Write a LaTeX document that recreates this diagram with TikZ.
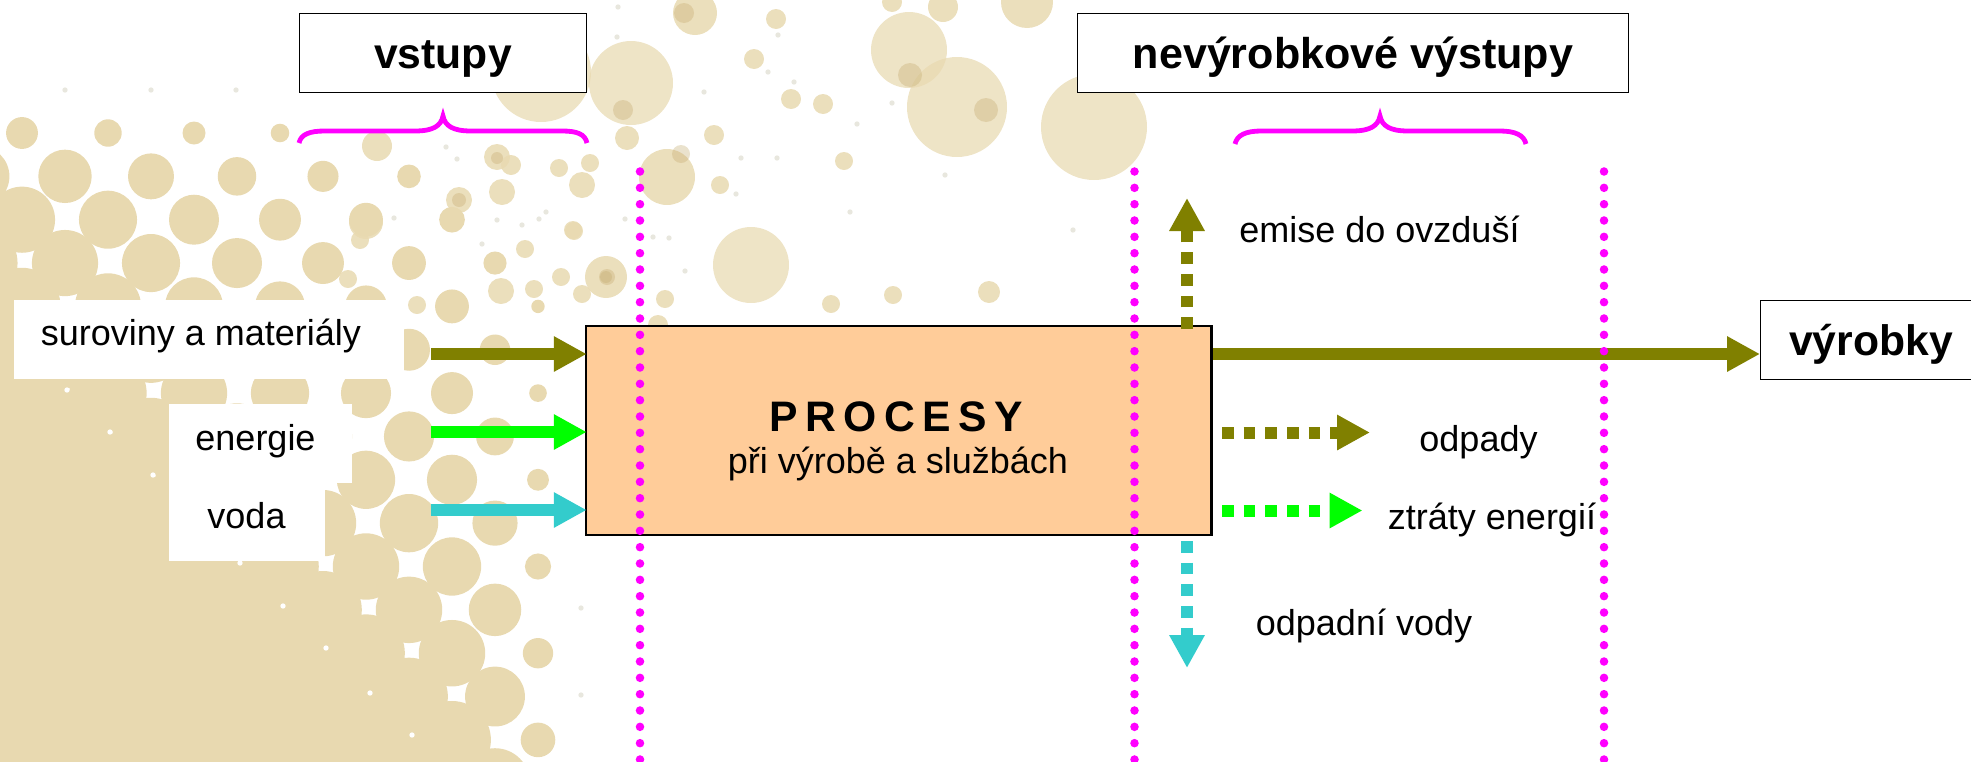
\documentclass[tikz,border=0pt]{standalone}
\usepackage{fontspec}
\setmainfont{Liberation Sans}
\usetikzlibrary{arrows.meta,calc}
\definecolor{sand}{HTML}{E8D9B0}
\definecolor{sanddark}{HTML}{C4AC70}
\definecolor{speck}{HTML}{BDB9A0}
\definecolor{olivearrow}{HTML}{808000}
\definecolor{limearrow}{HTML}{00FF00}
\definecolor{tealarrow}{HTML}{33CCCC}
\definecolor{brace}{HTML}{FF00FF}
\definecolor{procfill}{HTML}{FFCC99}
\tikzset{
  x=0.75pt, y=-0.75pt,
  headbox/.style={draw=black, line width=0.7pt, fill=white, inner sep=0pt, minimum height=59.25pt},
  plainlabel/.style={anchor=base, font=\fontsize{27}{32}\selectfont, inner sep=0pt},
  boldlabel/.style={anchor=base, font=\fontsize{32}{38}\selectfont\bfseries, inner sep=0pt},
  flow/.style={line width=9pt, -{Triangle[length=24.75pt,width=25pt]}},
  dashflow/.style={flow, dash pattern=on 8.75pt off 7.5pt},
  separator/.style={draw=brace, line width=6.4pt, line cap=round, dash pattern=on 0pt off 12.25pt},
  bracket/.style={draw=brace, line width=3.6pt},
  blob/.style={fill=sand, opacity=0.85},
  paleblob/.style={fill=sand, opacity=0.72},
  core/.style={fill=sanddark, opacity=0.35},
}
\begin{document}
\begin{tikzpicture}
\useasboundingbox (0,0) rectangle (1971,761);
\begin{scope}
\clip (0,0) rectangle (1971,761);
% halftone field of dots growing toward the lower left corner
\foreach \row in {0,...,16}{
  \pgfmathsetmacro{\yy}{133+43.35*\row}
  \pgfmathsetmacro{\xstart}{isodd(\row) ? -21 : -64}
  \pgfmathsetmacro{\xlimit}{\row==0 ? 290 : (\row==1 ? 420 : (\row==2 ? 460 : (\row==3 ? 500 : (\row==5 ? 500 : 545))))}
  \foreach \col in {0,...,7}{
    \pgfmathsetmacro{\xx}{\xstart+86*\col}
    \pgfmathparse{\xx<\xlimit ? 1 : 0}
    \ifnum\pgfmathresult=1
      \pgfmathsetmacro{\uu}{\yy-\xx}
      \pgfmathsetmacro{\base}{\uu<250 ? 25+0.047*(\uu-26) : 35.5+0.09*(\uu-250)}
      \pgfmathsetmacro{\rowf}{\row==0 ? 0.55 : (\row==1 ? 0.92 : 1)}
      \pgfmathsetmacro{\colf}{\xx>530 ? 0.52 : (\xx>480 ? 0.9 : 1)}
      \pgfmathsetmacro{\rr}{\base*\rowf*\colf}
      \fill[sand] (\xx,\yy) circle[radius=\rr*0.75pt];
    \fi
  }
}
% scattered dots in the upper middle
\foreach \xx/\yy/\rr in {
  377/146/15, 497/157/13, 511/165/10, 559/168/9, 590/163/9, 582/185/13, 502/192/13,
  459/200/13, 452/221/11, 573/230/9, 525/249/9, 561/277/9, 501/291/13, 534/289/9,
  582/294/9, 417/305/9, 360/240/9, 348/279/9, 366/222/17, 606/277/21, 574/231/9,
  695/13/22, 776/19/10, 754/59/10, 791/99/10, 823/104/10, 714/135/10, 627/138/12,
  667/177/28, 720/185/9, 844/161/9, 665/299/9, 831/304/9, 893/295/9, 989/292/11,
  658/325/10, 943/7/15, 892/2/10, 1027/2/26}
  \fill[blob] (\xx,\yy) circle[radius=\rr*0.75pt];
\foreach \xx/\yy/\rr in {541/72/50, 631/83/42, 751/265/38, 909/50/38, 957/107/50, 1094/127/53}
  \fill[paleblob] (\xx,\yy) circle[radius=\rr*0.75pt];
\foreach \xx/\yy/\rr in {684/13/10, 623/110/10, 681/154/9, 986/110/12, 607/277/8, 497/158/6, 459/200/7, 606/277/6, 910/75/12}
  \fill[core] (\xx,\yy) circle[radius=\rr*0.75pt];
% small specks
\foreach \xx/\yy in {65/90, 151/90, 236/90, 618/7, 617/37, 778/35, 768/72, 794/82, 704/92,
  741/158, 777/158, 857/124, 892/103, 945/175, 736/194, 850/212, 1073/230, 653/237, 669/238,
  625/219, 685/271, 446/147, 457/159, 497/220, 522/225, 539/219, 546/212, 482/244, 394/218, 581/608, 581/695}
  \fill[speck, opacity=0.35] (\xx,\yy) circle[radius=2pt];
% pinholes left in the solid part of the field
\foreach \xx/\yy in {67/390, 110/432, 153/475, 240/563, 283/606, 326/648, 370/693, 412/735}
  \fill[white] (\xx,\yy) circle[radius=2pt];
\end{scope}

% white plates behind the input labels
\fill[white] (14,300) rectangle (404,379);
\fill[white] (169,404) rectangle (351.5,483);
\fill[white] (169,483) rectangle (325,561);

% central process box
\node[draw=black, line width=2pt, fill=procfill, minimum width=469pt, minimum height=156.75pt, inner sep=0pt] (proc) at (898.75,430.5) {};
\node[boldlabel] (proctitle) at (896,431) {\spaceskip=5.6pt P R O C E S Y};
\node[plainlabel] (procsub) at (898,473) {při výrobě a službách};

% heading boxes
\node[headbox, minimum width=215.25pt] (inputs) at (442.5,52.5) {};
\node[boldlabel] (inputstext) at (443,68) {vstupy};
\node[headbox, minimum width=413.25pt] (outputs) at (1352.5,52.5) {};
\node[boldlabel, font=\fontsize{32.3}{38}\selectfont\bfseries] (outputstext) at (1353,68) {nevýrobkové výstupy};
\node[headbox, anchor=west, minimum width=165pt] (products) at (1760,339.5) {};
\node[boldlabel] (productstext) at (1871,355) {výrobky};

% braces under the headings
\draw[bracket] (299,143) .. controls (301,134) and (310,131) .. (325,131) -- (415,131)
  .. controls (433,131) and (441,126) .. (443,116) .. controls (445,126) and (453,131) .. (471,131)
  -- (562,131) .. controls (577,131) and (585,134) .. (587,143);
\draw[bracket] (1235,144) .. controls (1237,135) and (1246,131) .. (1261,131) -- (1352,131)
  .. controls (1370,131) and (1378,126) .. (1380,116) .. controls (1382,126) and (1390,131) .. (1408,131)
  -- (1500,131) .. controls (1515,131) and (1524,135) .. (1526,144);

% input labels
\node[plainlabel] (lraw) at (201,345) {suroviny a materiály};
\node[plainlabel] (lenergy) at (255.5,450) {energie};
\node[plainlabel] (lwater) at (246.5,528) {voda};

% output labels
\node[plainlabel] (lemis) at (1379.5,242.5) {emise do ovzduší};
\node[plainlabel] (lwaste) at (1478.5,451) {odpady};
\node[plainlabel] (lloss) at (1492,529) {ztráty energií};
\node[plainlabel] (lsew) at (1364,635) {odpadní vody};

% free ends of the flow arrows
\coordinate (inA) at (431,354);
\coordinate (inB) at (431,432);
\coordinate (inC) at (431,510);
\coordinate (upS) at (1187,329);
\coordinate (upT) at (1187,198);
\coordinate (dnS) at (1187,541);
\coordinate (dnT) at (1187,668);
\coordinate (wasteS) at (1222,432.5);
\coordinate (wasteT) at (1370,432.5);
\coordinate (lossS) at (1222,510.5);
\coordinate (lossT) at (1362.5,510.5);

% flows into and out of the process
\draw[flow, olivearrow, shorten >=-1.5pt] (inA) -- (inA -| proc.west);
\draw[flow, limearrow, shorten >=-1.5pt] (inB) -- (inB -| proc.west);
\draw[flow, tealarrow, shorten >=-1.5pt] (inC) -- (inC -| proc.west);
\draw[flow, olivearrow] (inA -| proc.east) -- (inA -| products.west);
\draw[dashflow, olivearrow] (upS) -- (upT);
\draw[dashflow, tealarrow] (dnS) -- (dnT);
\draw[dashflow, olivearrow] (wasteS) -- (wasteT);
\draw[dashflow, limearrow] (lossS) -- (lossT);

% dotted boundary lines
\coordinate (sepAt) at (640,171.5);
\coordinate (sepAb) at (640,770);
\coordinate (sepBt) at (1134.5,171.5);
\coordinate (sepBb) at (1134.5,770);
\coordinate (sepCt) at (1604,171.5);
\coordinate (sepCb) at (1604,770);
\draw[separator] (sepAt) -- (sepAb);
\draw[separator] (sepBt) -- (sepBb);
\draw[separator] (sepCt) -- (sepCb);
\end{tikzpicture}
\end{document}
